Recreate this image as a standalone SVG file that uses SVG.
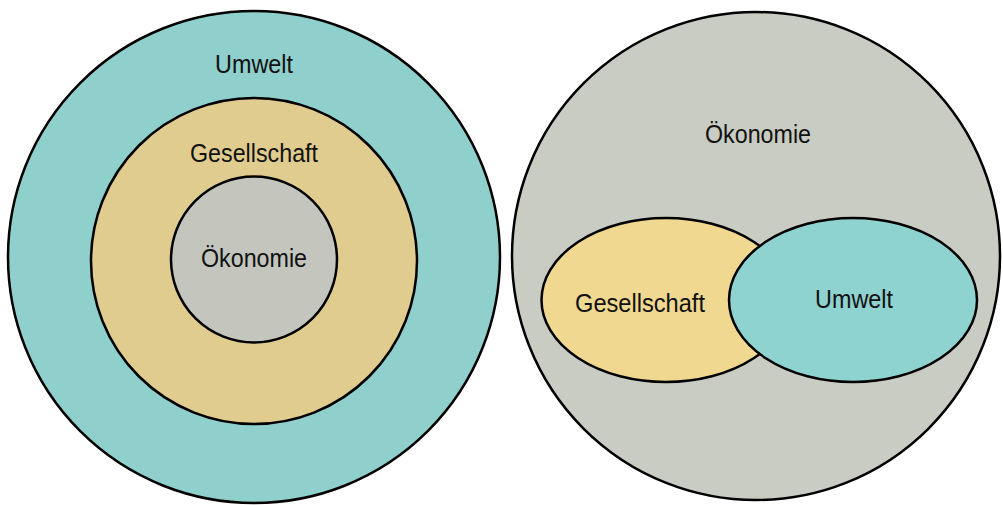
<svg xmlns="http://www.w3.org/2000/svg" width="1003" height="505" viewBox="0 0 1003 505">
<style>
.s{stroke:#000;stroke-width:2.5}
.t{font-family:"Liberation Sans",Arial,sans-serif;font-size:25.5px;fill:#111;text-anchor:middle}
</style>
<rect width="1003" height="505" fill="#fff"/>
<g id="left">
<g id="umwelt-l"><circle class="s" cx="254" cy="257" r="246" fill="#8fcfcc"/><text class="t" x="254" y="73" textLength="78" lengthAdjust="spacingAndGlyphs">Umwelt</text></g>
<g id="gesellschaft-l"><circle class="s" cx="254" cy="261" r="163" fill="#dfcc8e"/><text class="t" x="254" y="162" textLength="128" lengthAdjust="spacingAndGlyphs">Gesellschaft</text></g>
<g id="oekonomie-l"><circle class="s" cx="254" cy="259.5" r="83" fill="#c4c6be"/><text class="t" x="254" y="267" textLength="106" lengthAdjust="spacingAndGlyphs">Ökonomie</text></g>
</g>
<g id="right">
<g id="oekonomie-r"><circle class="s" cx="756" cy="256" r="244" fill="#c9ccc2"/><text class="t" x="758" y="143" textLength="106" lengthAdjust="spacingAndGlyphs">Ökonomie</text></g>
<g id="gesellschaft-r"><ellipse class="s" cx="666" cy="300" rx="124.5" ry="82" fill="#f0d890"/><text class="t" x="640" y="312" textLength="130" lengthAdjust="spacingAndGlyphs">Gesellschaft</text></g>
<g id="umwelt-r"><ellipse class="s" cx="853" cy="300" rx="124" ry="82" fill="#8fd3d0"/><text class="t" x="854" y="308" textLength="78" lengthAdjust="spacingAndGlyphs">Umwelt</text></g>
</g>
<g id="connectors"/>
</svg>
